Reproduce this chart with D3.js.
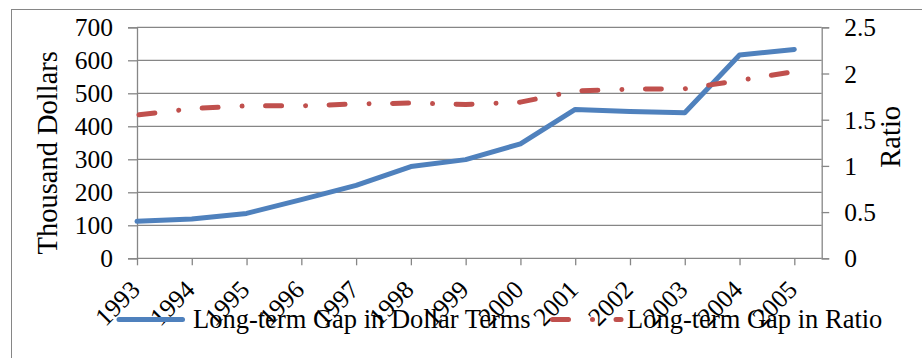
<!DOCTYPE html>
<html>
<head>
<meta charset="utf-8">
<script src="https://cdn.jsdelivr.net/npm/d3@7"></script>
<style>
html,body{margin:0;padding:0;background:#fff;}
svg{display:block;}
text{font-family:"Liberation Serif","Times New Roman",serif;fill:#000;}
</style>
</head>
<body>
<script>
const years = ["1993","1994","1995","1996","1997","1998","1999","2000","2001","2002","2003","2004","2005"];
const dollarGap = [112,119,136,178,221,278,299,347,451,445,441,616,633];
const ratioGap = [1.55,1.62,1.65,1.65,1.67,1.68,1.665,1.69,1.81,1.83,1.835,1.925,2.02];
const leftTicks = [0,100,200,300,400,500,600,700];
const rightTicks = [0,0.5,1,1.5,2,2.5];
const rightTickLabels = ["0","0.5","1","1.5","2","2.5"];
const seriesNames = ["Long-term Gap in Dollar Terms","Long-term Gap in Ratio"];
const leftTitle = "Thousand Dollars";
const rightTitle = "Ratio";

const W = 922, H = 358;
const plot = {left:137, right:821.7, top:27.3, bottom:258.3};
const blue = "#4F81BD", red = "#C0504D", gray = "#868686";
const dash = "16,24,0.01,23.5";

const svg = d3.select("body").append("svg").attr("width", W).attr("height", H);

// outer border
svg.append("rect").attr("x", 11.5).attr("y", 9.5).attr("width", 1000).attr("height", 500)
  .attr("fill", "none").attr("stroke", gray).attr("stroke-width", 1);

const x = d3.scaleLinear().domain([0, 12.5]).range([plot.left, plot.right]);
const yL = d3.scaleLinear().domain([0, 700]).range([plot.bottom, plot.top]);
const yR = d3.scaleLinear().domain([0, 2.5]).range([plot.bottom, plot.top]);

// gridlines
svg.append("g").selectAll("line").data(leftTicks.filter(d => d > 0)).join("line")
  .attr("x1", plot.left).attr("x2", plot.right)
  .attr("y1", d => yL(d)).attr("y2", d => yL(d))
  .attr("stroke", gray).attr("stroke-width", 1.3);

// left axis
const gL = svg.append("g").attr("transform", `translate(${plot.left},0)`)
  .call(d3.axisLeft(yL).tickValues(leftTicks).tickSize(9).tickPadding(15).tickFormat(d3.format("d")));
gL.select(".domain").attr("stroke", gray).attr("stroke-width", 1.3);
gL.selectAll(".tick line").attr("stroke", gray).attr("stroke-width", 1.3);
gL.selectAll(".tick text").attr("font-size", 25.5).attr("font-family", "Liberation Serif").attr("dy", "0.34em").attr("fill","#000");

// right axis
const gR = svg.append("g").attr("transform", `translate(${plot.right},0)`)
  .call(d3.axisRight(yR).tickValues(rightTicks).tickSize(7.5).tickPadding(15).tickFormat((d,i) => rightTickLabels[i]));
gR.select(".domain").attr("stroke", gray).attr("stroke-width", 1.3);
gR.selectAll(".tick line").attr("stroke", gray).attr("stroke-width", 1.3);
gR.selectAll(".tick text").attr("font-size", 25.5).attr("font-family", "Liberation Serif").attr("dy", "0.34em").attr("fill","#000");

// bottom axis
const gB = svg.append("g").attr("transform", `translate(0,${plot.bottom})`)
  .call(d3.axisBottom(x).tickValues(d3.range(years.length)).tickSize(7).tickFormat(i => years[i]));
gB.select(".domain").remove();
svg.append("line").attr("x1", plot.left).attr("x2", plot.right).attr("y1", plot.bottom).attr("y2", plot.bottom)
  .attr("stroke", gray).attr("stroke-width", 1.3);
gB.selectAll(".tick line").attr("stroke", gray).attr("stroke-width", 1.3);
gB.selectAll(".tick text").attr("font-size", 25.5).attr("font-family", "Liberation Serif")
  .attr("text-anchor", "end").attr("y", 0).attr("dy", 0)
  .attr("transform", "translate(4,33) rotate(-45)").attr("fill","#000");

// axis titles
svg.append("text").attr("transform", `translate(57,${(plot.top+plot.bottom)/2 + 10}) rotate(-90)`)
  .attr("text-anchor", "middle").attr("font-size", 28.5).text(leftTitle);
svg.append("text").attr("transform", `translate(900,${(plot.top+plot.bottom)/2 - 6}) rotate(-90)`)
  .attr("text-anchor", "middle").attr("font-size", 28.5).text(rightTitle);

// series lines
const lineL = d3.line().x((d,i) => x(i)).y(d => yL(d));
const lineR = d3.line().x((d,i) => x(i)).y(d => yR(d));
svg.append("path").datum(dollarGap).attr("d", lineL).attr("fill", "none")
  .attr("stroke", blue).attr("stroke-width", 5).attr("stroke-linejoin", "round").attr("stroke-linecap", "round");
svg.append("path").datum(ratioGap).attr("d", lineR).attr("fill", "none")
  .attr("stroke", red).attr("stroke-width", 5).attr("stroke-linejoin", "round").attr("stroke-linecap", "round")
  .attr("stroke-dasharray", dash).attr("stroke-dashoffset", -2);

// legend
const legY = 319.5;
const leg = svg.append("g");
leg.append("line").attr("x1", 119).attr("x2", 182.5).attr("y1", legY).attr("y2", legY)
  .attr("stroke", blue).attr("stroke-width", 5).attr("stroke-linecap", "round");
leg.append("text").attr("x", 193).attr("y", 328).attr("font-size", 26.5).text(seriesNames[0]);
leg.append("line").attr("x1", 552.5).attr("x2", 621).attr("y1", legY).attr("y2", legY)
  .attr("stroke", red).attr("stroke-width", 5).attr("stroke-linecap", "round").attr("stroke-dasharray", dash);
leg.append("text").attr("x", 627).attr("y", 328).attr("font-size", 26.5).text(seriesNames[1]);
</script>
</body>
</html>
